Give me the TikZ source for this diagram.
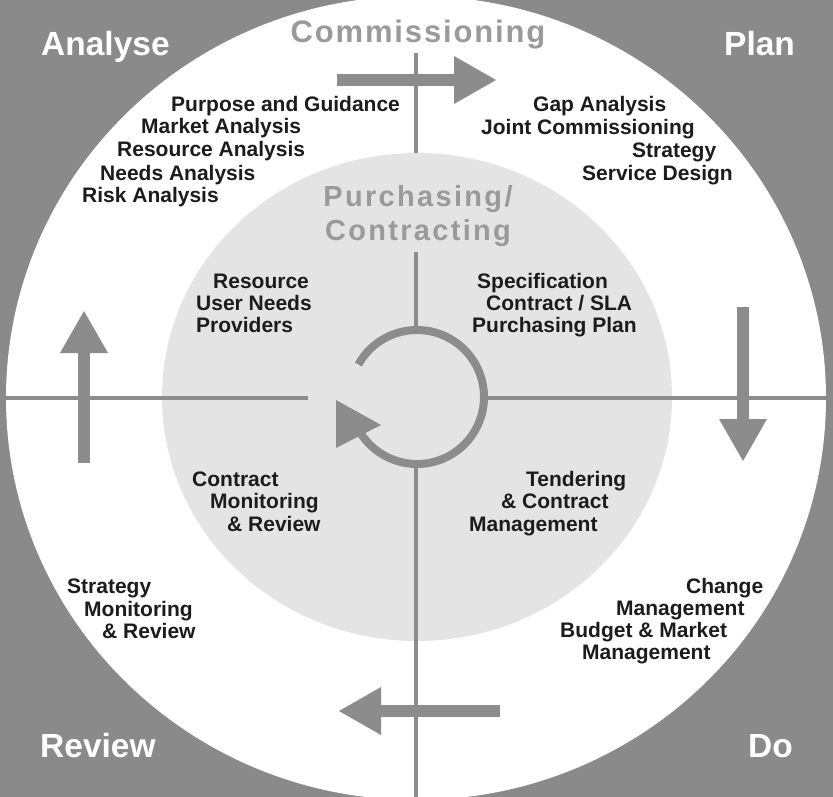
\documentclass[tikz,border=0pt]{standalone}
\usepackage{fontspec}
\setmainfont{Liberation Sans}
\newfontfamily\titlefont[LetterSpace=6]{Liberation Sans}
\newfontfamily\titlefontb[LetterSpace=8]{Liberation Sans}
\usetikzlibrary{arrows.meta}
\definecolor{bggray}{HTML}{8A8A8A}
\definecolor{arrgray}{HTML}{8C8C8C}
\definecolor{innergray}{HTML}{E4E4E4}
\definecolor{titlegray}{HTML}{9A9A9A}
\definecolor{txt}{HTML}{1C1C1C}
\begin{document}
\begin{tikzpicture}[x=1pt,y=-1pt,
  lbl/.style={anchor=base west, inner sep=0pt, font=\bfseries\fontsize{21}{22}\selectfont, text=txt},
  corner/.style={anchor=base west, inner sep=0pt, font=\bfseries\fontsize{33.5}{36}\selectfont, text=white},
  crossline/.style={draw=arrgray, line width=4pt},
  blockarrow/.style={draw=arrgray, line width=12pt, -{Triangle[length=42pt,width=48pt,line width=0pt]}},
  cyclearc/.style={draw=arrgray, line width=8pt}]
\useasboundingbox (0,0) rectangle (833,797);
\clip (0,0) rectangle (833,797);
\fill[bggray] (0,0) rectangle (833,797);
% outer white disc
\fill[white] (416,398) ellipse [x radius=410, y radius=402];
% centre
\coordinate (c) at (417,397);
% top vertical segment (outer ring)
\coordinate (vtop) at (416,53);
\coordinate (vin) at (416,160);
\draw[crossline] (vtop) -- (vin);
% inner light disc
\fill[innergray] (c) ellipse [x radius=255, y radius=244];
% cross lines
\coordinate (vmid) at (416,252);
\coordinate (ctop) at (416,332);
\coordinate (cbot) at (416,462);
\coordinate (vbot) at (416,800);
\coordinate (hl0) at (-2,398);
\coordinate (hl1) at (308,398);
\coordinate (hr0) at (488,398);
\coordinate (hr1) at (835,398);
\draw[crossline] (vmid) -- (ctop);
\draw[crossline] (cbot) -- (vbot);
\draw[crossline] (hl0) -- (hl1);
\draw[crossline] (hr0) -- (hr1);
% circular arrow
\draw[cyclearc] (c) ++(-151:67) arc[start angle=-151, end angle=146, radius=67];
\coordinate (t1) at (336,400);
\coordinate (t2) at (336,448);
\coordinate (t3) at (381,425);
\fill[arrgray] (t1) -- (t2) -- (t3) -- cycle;
% block arrows
\coordinate (a1s) at (337,80);  \coordinate (a1e) at (496,80);
\coordinate (a2s) at (743,307); \coordinate (a2e) at (743,461);
\coordinate (a3s) at (500,711); \coordinate (a3e) at (339,711);
\coordinate (a4s) at (84,463);  \coordinate (a4e) at (84,311);
\draw[blockarrow] (a1s) -- (a1e);
\draw[blockarrow] (a2s) -- (a2e);
\draw[blockarrow] (a3s) -- (a3e);
\draw[blockarrow] (a4s) -- (a4e);
% titles
\node[anchor=base, inner sep=0pt, text=titlegray, font=\titlefont\bfseries\fontsize{31}{34}\selectfont] (comm) at (418,43) {Commissioning};
\node[anchor=base, inner sep=0pt, text=titlegray, font=\titlefontb\bfseries\fontsize{29}{32}\selectfont] (purch1) at (418,207) {Purchasing/};
\node[anchor=base, inner sep=0pt, text=titlegray, font=\titlefontb\bfseries\fontsize{29}{32}\selectfont] (purch2) at (418,240) {Contracting};
% corner labels
\node[corner] (analyse) at (41,56) {Analyse};
\node[corner] (plan) at (724,56) {Plan};
\node[corner] (review) at (40,757) {Review};
\node[corner] (do) at (748,757) {Do};
% analyse items
\node[lbl] (l1) at (171,112) {Purpose and Guidance};
\node[lbl] (l2) at (141,134) {Market Analysis};
\node[lbl] (l3) at (117,157) {Resource Analysis};
\node[lbl] (l4) at (100,180) {Needs Analysis};
\node[lbl] (l5) at (82,202) {Risk Analysis};
% plan items
\node[lbl] (p1) at (533,112) {Gap Analysis};
\node[lbl] (p2) at (481,135) {Joint Commissioning};
\node[lbl] (p3) at (632,158) {Strategy};
\node[lbl] (p4) at (582,180) {Service Design};
% inner upper left
\node[lbl] (i1) at (213,288) {Resource};
\node[lbl] (i2) at (196,310) {User Needs};
\node[lbl] (i3) at (196,332) {Providers};
% inner upper right
\node[lbl] (j1) at (477,288) {Specification};
\node[lbl] (j2) at (486,310) {Contract / SLA};
\node[lbl] (j3) at (472,332) {Purchasing Plan};
% inner lower left
\node[lbl] (k1) at (192,486) {Contract};
\node[lbl] (k2) at (210,508) {Monitoring};
\node[lbl] (k3) at (227,531) {\& Review};
% inner lower right
\node[lbl] (m1) at (526,486) {Tendering};
\node[lbl] (m2) at (501,508) {\& Contract};
\node[lbl] (m3) at (469,531) {Management};
% review items
\node[lbl] (r1) at (67,593) {Strategy};
\node[lbl] (r2) at (84,616) {Monitoring};
\node[lbl] (r3) at (102,638) {\& Review};
% do items
\node[lbl] (d1) at (686,593) {Change};
\node[lbl] (d2) at (616,615) {Management};
\node[lbl] (d3) at (560,637) {Budget \& Market};
\node[lbl] (d4) at (582,659) {Management};
\end{tikzpicture}
\end{document}
